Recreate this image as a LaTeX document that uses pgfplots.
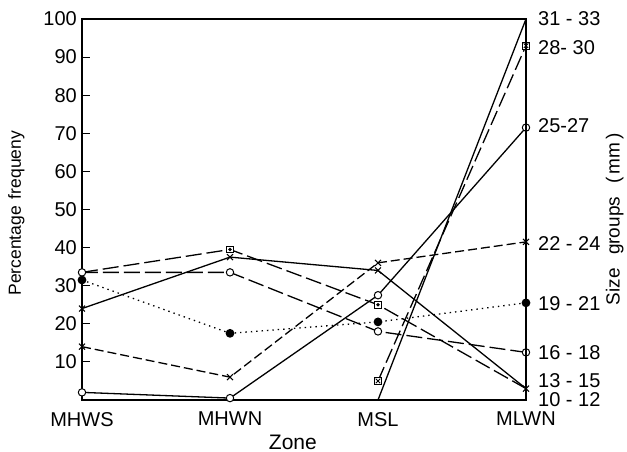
\documentclass[border=0pt]{standalone}
\usepackage{fontspec}
\setmainfont{Liberation Sans}
\usepackage{pgfplots}
\pgfplotsset{compat=1.18}
\begin{document}
\begin{tikzpicture}
\begin{axis}[
  scale only axis, width=444pt, height=381pt,
  xmin=0, xmax=3, ymin=0, ymax=100,
  clip=false,
  xtick={0,1,2,3}, xticklabels={MHWS,MHWN,MSL,MLWN},
  ytick={10,20,...,100},
  ytick pos=left, xtick style={draw=none},
  major tick length=8pt, tick align=inside,
  axis line style={line width=1.2pt},
  ytick style={line width=1.1pt, black},
  /pgf/number format/assume math mode=true,
  tick label style={font=\fontsize{20}{22}\selectfont},
  xticklabel style={inner sep=0pt, anchor=north, yshift=-12pt},
  yticklabel style={inner sep=0pt, anchor=east, xshift=-5pt},
  xlabel={Zone}, ylabel={Percentage\hspace{0.4em}frequeny},
  xlabel style={font=\fontsize{21}{24}\selectfont, at={(axis description cs:0.475,-0.11)}, anchor=center},
  ylabel style={font=\fontsize{17.5}{20}\selectfont, at={(axis description cs:-0.148,0.49)}, anchor=center},
  every axis plot/.append style={line width=1.3pt, black},
]
% 31-33
\addplot[solid, no markers] coordinates {(0,0) (1,0) (2,0) (3,100)};
% 28-30
\addplot[dash pattern=on 15pt off 5pt, mark=square*, mark size=3.4pt, mark options={solid, fill=white, line width=1pt}] coordinates {(2,5) (3,93)};
\addplot[only marks, mark=x, mark size=3.2pt, mark options={line width=0.9pt}] coordinates {(2,5) (3,93)};
% 25-27
\addplot[solid, mark=*, mark size=3.7pt, mark options={fill=white, line width=1pt}] coordinates {(0,2) (1,0.5) (2,27.5) (3,71.5)};
% 22-24
\addplot[dash pattern=on 9pt off 4pt, mark=x, mark size=4.2pt, mark options={solid, line width=1pt}] coordinates {(0,14) (1,6) (2,36) (3,41.5)};
% 19-21
\addplot[dash pattern=on 1.4pt off 4pt, mark=*, mark size=3.7pt, mark options={solid}] coordinates {(0,31.5) (1,17.5) (2,20.5) (3,25.5)};
% 16-18
\addplot[dash pattern=on 16pt off 5pt, mark=*, mark size=3.7pt, mark options={solid, fill=white, line width=1pt}] coordinates {(0,33.5) (1,33.5) (2,18) (3,12.5)};
% 13-15 (solid, crosses)
\addplot[solid, mark=x, mark size=4.2pt, mark options={solid, line width=1pt}] coordinates {(0,24) (1,37.5) (2,34) (3,3)};
% 10-12 (long dashed, dotted squares)
\addplot[dash pattern=on 16pt off 5pt, mark=square*, mark size=3.4pt, mark indices={2,3}, mark options={solid, fill=white, line width=1pt}] coordinates {(0,33.5) (1,39.5) (2,25) (3,3)};
\addplot[only marks, mark=*, mark size=1pt] coordinates {(1,39.5) (2,25)};
\end{axis}
\begin{axis}[
  scale only axis, width=444pt, height=381pt,
  xmin=0, xmax=3, ymin=0, ymax=100,
  axis x line=none, axis y line*=right,
  axis line style={line width=1.2pt},
  ytick={100,92.6,71.9,41,25.2,12.4,5.2,0},
  yticklabels={31 - 33,28- 30,25-27,22 - 24,19 - 21,16 - 18,13 - 15,10 - 12},
  ytick style={draw=none},
  yticklabel style={inner sep=0pt, anchor=west, xshift=12pt, font=\fontsize{20}{22}\selectfont},
  ylabel={Size\hspace{0.7em}groups\hspace{0.7em}(\,mm\,)},
  ylabel style={font=\fontsize{19}{22}\selectfont, at={(axis description cs:1.2,0.475)}, anchor=center},
]
\end{axis}
\pgfresetboundingbox
\path[use as bounding box] (-82pt,-52pt) rectangle (545pt,400pt);
\end{tikzpicture}
\end{document}
